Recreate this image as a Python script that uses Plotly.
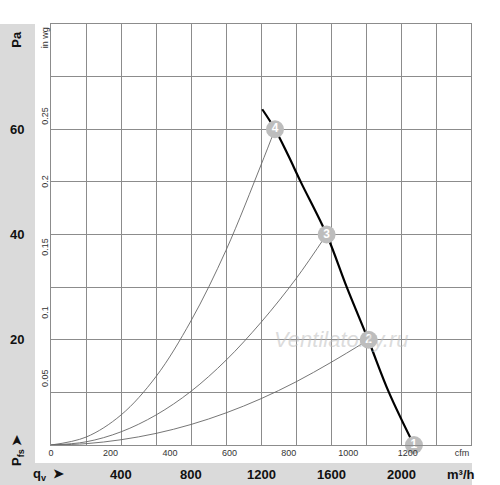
import plotly.graph_objects as go

# fan curve (m3/h, Pa)
fan_q = [1207, 1280, 1356, 1427, 1575, 1690, 1813, 1931, 2074]
fan_p = [63.8, 60.0, 55.0, 50.0, 40.0, 30.0, 20.0, 10.0, 0.0]

# system curves through the operating points
sys4_q = [0, 200, 400, 600, 800, 1000, 1200, 1280]
sys4_p = [0, 1.5, 5.7, 13.0, 23.6, 37.0, 53.2, 60.0]
sys3_q = [0, 200, 400, 600, 800, 1000, 1200, 1400, 1575]
sys3_p = [0, 0.6, 2.5, 5.7, 10.2, 16.1, 23.3, 31.6, 40.0]
sys2_q = [0, 200, 400, 600, 800, 1000, 1200, 1400, 1600, 1815]
sys2_p = [0, 0.25, 1.0, 2.2, 3.9, 6.1, 8.8, 12.0, 15.7, 20.0]

# operating points
pt_q = [2074, 1815, 1575, 1280]
pt_p = [0, 20, 40, 60]
pt_lbl = ["1", "2", "3", "4"]

pa_ticks = [20, 40, 60]
m3h_ticks = [400, 800, 1200, 1600, 2000]
cfm_ticks = [0, 200, 400, 600, 800, 1000, 1200]
inwg_ticks = [0.05, 0.1, 0.15, 0.2, 0.25]

FONT = "Liberation Sans, Arial, sans-serif"
grid = "#8c8c8c"
band = "#dadada"

fig = go.Figure()

for q, p in [(sys4_q, sys4_p), (sys3_q, sys3_p), (sys2_q, sys2_p)]:
    fig.add_trace(go.Scatter(x=q, y=p, mode="lines", line=dict(color="#666", width=0.9, shape="spline"),
                             hoverinfo="skip", cliponaxis=False))

fig.add_trace(go.Scatter(x=fan_q, y=fan_p, mode="lines", line=dict(color="black", width=2.2, shape="spline"),
                         cliponaxis=False))

fig.add_trace(go.Scatter(x=pt_q, y=pt_p, mode="markers+text", text=pt_lbl, textposition="middle center",
                         marker=dict(size=18, color="#bdbdbd"),
                         textfont=dict(color="white", size=12, family=FONT, weight="bold"),
                         cliponaxis=False))

# dummy trace so the secondary (cfm / in wg) axes get drawn
fig.add_trace(go.Scatter(x=[0], y=[0], xaxis="x2", yaxis="y2", mode="markers",
                         marker=dict(opacity=0), hoverinfo="skip"))

cfm_text = [str(v) for v in cfm_ticks] + ["cfm"]
inwg_text = [str(v) for v in inwg_ticks] + ["in wg"]

fig.update_layout(
    width=500, height=485,
    margin=dict(l=51, r=29, t=24, b=40),
    paper_bgcolor="white", plot_bgcolor="white",
    showlegend=False,
    font=dict(family=FONT, color="#222"),
    xaxis=dict(range=[0, 2400], dtick=200, showgrid=True, gridcolor=grid, gridwidth=1,
               showticklabels=False, zeroline=False, showline=True, mirror=True,
               linecolor=grid, linewidth=1, fixedrange=True),
    yaxis=dict(range=[0, 80], dtick=10, showgrid=True, gridcolor=grid, gridwidth=1,
               showticklabels=False, zeroline=False, showline=True, mirror=True,
               linecolor=grid, linewidth=1, fixedrange=True),
    xaxis2=dict(overlaying="x", side="bottom", range=[0, 2400 / 1.699],
                tickvals=cfm_ticks + [1382], ticktext=cfm_text, ticks="",
                showgrid=False, zeroline=False, showline=False, fixedrange=True,
                tickfont=dict(size=9, color="#333"), ticklabelstandoff=1),
    yaxis2=dict(overlaying="y", side="left", range=[0, 80 / 249.089],
                tickvals=inwg_ticks + [0.3097], ticktext=inwg_text, ticks="",
                tickangle=-90, showgrid=False, zeroline=False, showline=False, fixedrange=True,
                tickfont=dict(size=9, color="#333"), ticklabelstandoff=0),
)

# grey bands
fig.add_shape(type="rect", xref="paper", yref="paper", x0=-51 / 420, x1=-16 / 420,
              y0=-40 / 421, y1=1, fillcolor=band, line_width=0, layer="below")
fig.add_shape(type="rect", xref="paper", yref="paper", x0=-51 / 420, x1=421 / 420,
              y0=-40 / 421, y1=-18 / 421, fillcolor=band, line_width=0, layer="below")

bold = dict(family=FONT, size=13, color="#111", weight="bold")

for v in pa_ticks:
    fig.add_annotation(x=-34 / 420, xref="paper", y=v, yref="y", text=str(v), showarrow=False,
                       xanchor="center", yanchor="middle", font=bold)
fig.add_annotation(x=-34 / 420, xref="paper", y=77, yref="y", text="Pa", textangle=-90,
                   xanchor="center", yanchor="middle", showarrow=False, font=bold)
fig.add_annotation(x=-34 / 420, xref="paper", y=-6 / 421, yref="paper", text="P<sub>fs</sub> ➤",
                   xanchor="center", yanchor="middle", textangle=-90, showarrow=False, font=bold)

for v in m3h_ticks:
    fig.add_annotation(x=v, xref="x", y=-29 / 421, yref="paper", text=str(v), showarrow=False,
                       xanchor="center", yanchor="middle", font=bold)
fig.add_annotation(x=2345, xref="x", y=-29 / 421, yref="paper", text="m³/h", showarrow=False,
                   xanchor="center", yanchor="middle", font=bold)
fig.add_annotation(x=-3 / 420, xref="paper", y=-29 / 421, yref="paper", text="q<sub>v</sub>  ➤",
                   xanchor="center", yanchor="middle", showarrow=False, font=bold)

# watermark
fig.add_annotation(x=1660, xref="x", y=20, yref="y", text="<i>Ventilatorry.ru</i>", showarrow=False,
                   font=dict(family=FONT, size=22, color="rgba(190,190,190,0.55)"))

fig.write_html("out.html", config={"displayModeBar": False},
               post_script="document.body.style.margin='0';")
